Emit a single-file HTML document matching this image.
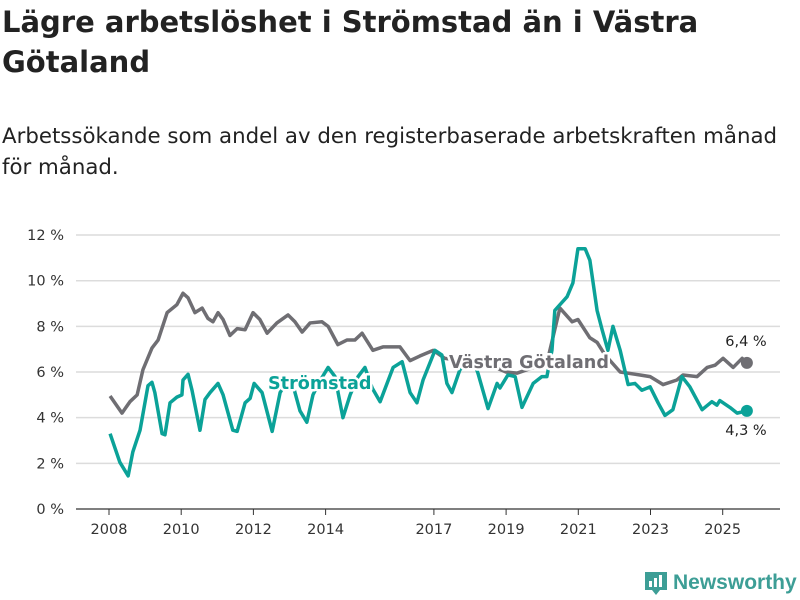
<!DOCTYPE html>
<html><head><meta charset="utf-8">
<style>
body{margin:0;width:800px;height:600px;background:#fff;font-family:"DejaVu Sans","Liberation Sans",sans-serif;overflow:hidden;position:relative}
h1{position:absolute;left:2px;top:2px;margin:0;font-size:29px;line-height:40px;font-weight:bold;color:#222;width:798px;white-space:nowrap}
p{position:absolute;left:2px;top:121px;margin:0;font-size:21.3px;line-height:31px;color:#222;width:798px;white-space:nowrap}
svg{position:absolute;left:0;top:0}
</style></head><body>
<h1>Lägre arbetslöshet i Strömstad än i Västra<br>Götaland</h1>
<p>Arbetssökande som andel av den registerbaserade arbetskraften månad<br>för månad.</p>
<svg id="c" width="800" height="600"></svg>
<script>
const yTicks=[0,2,4,6,8,10,12];
const xTickYears=[2008,2010,2012,2014,2017,2019,2021,2023,2025];
const vgDates=[2008.03,2008.36,2008.58,2008.78,2008.94,2009.19,2009.36,2009.61,2009.88,2010.05,2010.19,2010.38,2010.58,2010.74,2010.88,2011.02,2011.16,2011.35,2011.55,2011.77,2011.99,2012.18,2012.38,2012.65,2012.96,2013.15,2013.35,2013.57,2013.9,2014.07,2014.34,2014.59,2014.81,2015.01,2015.31,2015.59,2015.84,2016.06,2016.34,2016.61,2016.98,2017.3,2017.7,2018.2,2018.7,2019.0,2019.3,2020.13,2020.49,2020.83,2020.99,2021.32,2021.52,2021.74,2022.16,2022.71,2022.99,2023.35,2023.73,2023.9,2024.29,2024.57,2024.79,2025.01,2025.29,2025.54,2025.67];
const vgValues=[4.95,4.2,4.7,5.0,6.1,7.05,7.4,8.6,8.95,9.45,9.25,8.6,8.8,8.35,8.2,8.6,8.3,7.6,7.9,7.85,8.6,8.3,7.7,8.15,8.5,8.2,7.75,8.15,8.2,8.0,7.2,7.4,7.4,7.7,6.95,7.1,7.1,7.1,6.5,6.7,6.95,6.6,6.5,6.4,6.2,6.0,5.95,6.4,8.8,8.2,8.3,7.5,7.3,6.75,6.0,5.87,5.8,5.45,5.65,5.87,5.8,6.2,6.3,6.6,6.2,6.6,6.4];
const stDates=[2008.03,2008.3,2008.53,2008.66,2008.86,2009.08,2009.19,2009.27,2009.47,2009.55,2009.69,2009.88,2010.02,2010.05,2010.19,2010.3,2010.52,2010.66,2010.8,2011.02,2011.16,2011.43,2011.55,2011.77,2011.91,2012.02,2012.24,2012.52,2012.74,2012.93,2013.1,2013.29,2013.48,2013.65,2013.84,2014.07,2014.26,2014.48,2014.68,2014.9,2015.09,2015.29,2015.51,2015.87,2016.12,2016.34,2016.53,2016.7,2017.03,2017.22,2017.36,2017.5,2017.72,2017.94,2018.14,2018.22,2018.5,2018.75,2018.83,2019.05,2019.25,2019.44,2019.75,2019.99,2020.13,2020.27,2020.35,2020.69,2020.85,2020.99,2021.19,2021.32,2021.52,2021.66,2021.82,2021.96,2022.16,2022.38,2022.57,2022.76,2022.99,2023.21,2023.4,2023.62,2023.87,2024.09,2024.43,2024.7,2024.84,2024.92,2025.2,2025.4,2025.67];
const stValues=[3.3,2.05,1.45,2.5,3.45,5.4,5.55,5.1,3.3,3.25,4.65,4.9,5.0,5.65,5.9,5.2,3.45,4.8,5.1,5.5,5.0,3.45,3.4,4.65,4.85,5.5,5.1,3.4,5.1,5.6,5.4,4.3,3.8,5.0,5.6,6.2,5.8,4.0,5.0,5.8,6.2,5.3,4.7,6.2,6.45,5.1,4.65,5.65,6.95,6.75,5.5,5.1,6.1,6.4,6.3,5.95,4.4,5.5,5.3,5.87,5.8,4.45,5.5,5.8,5.8,6.95,8.7,9.3,9.9,11.4,11.4,10.9,8.7,7.85,6.95,8.0,6.95,5.45,5.5,5.2,5.35,4.65,4.1,4.35,5.8,5.35,4.35,4.7,4.55,4.75,4.45,4.2,4.3];
const endLabels=["6,4 %","4,3 %"];

const svg=document.getElementById('c'),NS='http://www.w3.org/2000/svg';
const X=y=>109+(y-2008)*36.1, Y=v=>509-v*22.83;
function mk(t,a,p){const e=document.createElementNS(NS,t);for(const k in a)e.setAttribute(k,a[k]);(p||svg).appendChild(e);return e;}
yTicks.forEach(v=>{
  const g=mk('line',{x1:76,x2:780,y1:Y(v),y2:Y(v),stroke:v?'#dcdcdc':'#333','stroke-width':v?1.5:1.2});
  
  
  const t=mk('text',{x:64,y:Y(v)+5,'text-anchor':'end','font-size':14.5,fill:'#333'});
  t.textContent=v+' %';
  
  
});
xTickYears.forEach(yr=>{
  const l=mk('line',{x1:X(yr),x2:X(yr),y1:509,y2:515,stroke:'#333'});
  
  
  const t=mk('text',{x:X(yr),y:534,'text-anchor':'middle','font-size':14.5,fill:'#333'});
  t.textContent=yr;
  
  
});
function line(d,v,col,name){
  const p=mk('polyline',{points:d.map((x,i)=>X(x)+','+Y(v[i])).join(' '),fill:'none',stroke:col,'stroke-width':3.5,'stroke-linejoin':'round'});
  
  
  const c=mk('circle',{cx:X(d[d.length-1]),cy:Y(v[v.length-1]),r:6,fill:col});
  
  
}
line(vgDates,vgValues,'#6f6e73','vastra-gotaland-line');
line(stDates,stValues,'#0ba298','stromstad-line');
function lab(x,y,txt,col,name){
  const t=mk('text',{x:x,y:y,'font-size':17.6,'font-weight':'bold',fill:col,stroke:'#fff','stroke-width':5,'paint-order':'stroke','stroke-linejoin':'round'});
  t.textContent=txt;
  
  
}
lab(268,389,'Strömstad','#0ba298','stromstad-label');
lab(449,368,'Västra Götaland','#6f6e73','vastra-gotaland-label');
const e1=mk('text',{x:746,y:346,'text-anchor':'middle','font-size':14.5,fill:'#222'});
e1.textContent=endLabels[0];


const e2=mk('text',{x:746,y:435,'text-anchor':'middle','font-size':14.5,fill:'#222'});
e2.textContent=endLabels[1];


</script>
<div style="position:absolute;left:645px;top:570px;display:flex;align-items:center">
<svg width="22" height="26" style="position:static"><path d="M0 2h22v18h-7l-4 5-4-5H0z" fill="#3d9e96"/><rect x="4" y="11" width="3" height="6" fill="#fff"/><rect x="9" y="8" width="3" height="9" fill="#fff"/><rect x="14" y="5" width="3" height="12" fill="#fff"/></svg>
<span style="margin-left:6px;font-family:'Liberation Sans',sans-serif;font-size:21px;color:#3d9e96;font-weight:bold">Newsworthy</span></div>
</body></html>
